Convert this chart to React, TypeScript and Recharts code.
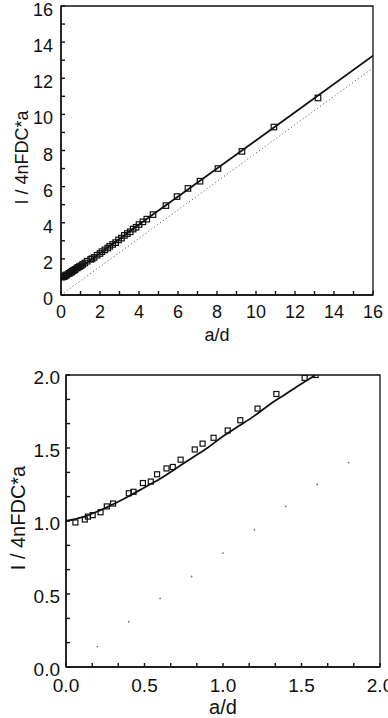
import React from "react";
import { ComposedChart, Line, Scatter, XAxis, YAxis, ReferenceArea, Label } from "recharts";

// measured points, small a/d (shared by both panels)
const ratioSmall = [0.06, 0.12, 0.14, 0.17, 0.22, 0.26, 0.3, 0.4, 0.43, 0.49, 0.54, 0.58, 0.64, 0.68, 0.73, 0.82, 0.87, 0.94, 1.03, 1.11, 1.22, 1.34, 1.52, 1.59];
const currentSmall = [0.99, 1.01, 1.03, 1.04, 1.06, 1.1, 1.12, 1.19, 1.2, 1.26, 1.27, 1.32, 1.36, 1.37, 1.42, 1.49, 1.53, 1.57, 1.62, 1.69, 1.77, 1.87, 1.98, 2.0];
// measured points, larger a/d (top panel only)
const ratioLarge = [1.7, 1.85, 2.0, 2.1, 2.25, 2.4, 2.5, 2.65, 2.8, 2.95, 3.1, 3.25, 3.4, 3.55, 3.7, 3.85, 4.0, 4.2, 4.4, 4.72, 5.38, 5.95, 6.51, 7.13, 8.05, 9.28, 10.92, 13.18];
const currentLarge = [2.08, 2.2, 2.3, 2.4, 2.5, 2.6, 2.7, 2.8, 2.9, 3.05, 3.15, 3.3, 3.4, 3.5, 3.65, 3.75, 3.9, 4.05, 4.2, 4.45, 4.95, 5.45, 5.9, 6.3, 7.0, 7.95, 9.3, 10.91];

// solid fitted curve
const fitTopX = [0, 0.4, 0.8, 1.2, 1.6, 4, 8, 12, 16];
const fitTopY = [1.0, 1.17, 1.43, 1.72, 2.01, 3.9, 7.0, 10.12, 13.25];
const fitBottomX = [0, 0.1, 0.2, 0.3, 0.4, 0.5, 0.6, 0.7, 0.8, 0.9, 1.0, 1.1, 1.2, 1.3, 1.4, 1.5, 1.59];
const fitBottomY = [1.0, 1.025, 1.065, 1.115, 1.17, 1.23, 1.29, 1.36, 1.43, 1.5, 1.58, 1.65, 1.72, 1.8, 1.87, 1.94, 2.0];

// dotted reference line
const dottedTopX = [0, 16];
const dottedTopY = [0, 12.57];
const dottedBottomX = [0.2, 0.4, 0.6, 0.8, 1.0, 1.2, 1.4, 1.6, 1.8];
const dottedBottomY = [0.14, 0.31, 0.47, 0.62, 0.78, 0.94, 1.1, 1.25, 1.4];

const topTicks = [0, 1, 2, 3, 4, 5, 6, 7, 8, 9, 10, 11, 12, 13, 14, 15, 16];
const topLabels = [0, 2, 4, 6, 8, 10, 12, 14, 16];
const bottomTicks = [0, 0.167, 0.333, 0.5, 0.667, 0.833, 1.0, 1.167, 1.333, 1.5, 1.667, 1.833, 2.0];
const bottomLabels = [0, 0.5, 1.0, 1.5, 2.0];

const zip = (xs: number[], ys: number[]) => xs.map((x, i) => ({ x, y: ys[i] }));

const FONT = "'Liberation Sans', Arial, Helvetica, sans-serif";
const yTitle = "I / 4nFDC*a";

const makeSquare = (s: number) => (props: any) => {
  const { cx, cy } = props;
  if (cx == null || cy == null) return <g />;
  return <rect x={cx - s / 2} y={cy - s / 2} width={s} height={s} fill="none" stroke="#111" strokeWidth={1.2} />;
};

const Dot = (props: any) => {
  const { cx, cy } = props;
  if (cx == null || cy == null) return <g />;
  return <circle cx={cx} cy={cy} r={0.9} fill="#777" />;
};

const makeTick = (labels: number[], digits: number, axis: "x" | "y", size: number, dy: number) => (props: any) => {
  const { x, y, payload } = props;
  const v = payload.value;
  if (!labels.some((l) => Math.abs(l - v) < 1e-6)) return <g />;
  return (
    <text x={x} y={y} dy={dy} textAnchor={axis === "x" ? "middle" : "end"} fontSize={size} fontFamily={FONT} fill="#111">
      {v.toFixed(digits)}
    </text>
  );
};

function Panel({
  width, height, margin, yWidth, xHeight, max, ticks, labels, digits, fontSize, titleSize, squareSize,
  points, fit, dotted, dottedAsDots, xTitleY, yTitleX, yTitleShift, yTickGap, xTickDy, yTickDy,
}: any) {
  return (
    <ComposedChart width={width} height={height} margin={margin}>
      <XAxis
        type="number"
        dataKey="x"
        domain={[0, max]}
        ticks={ticks}
        allowDataOverflow
        height={xHeight}
        stroke="#111"
        strokeWidth={1.4}
        tickSize={-4}
        tickMargin={4}
        tick={makeTick(labels, digits, "x", fontSize, xTickDy)}
        interval={0}
        label={
          <Label
            content={(p: any) => {
              const vb = p.viewBox;
              return (
                <text x={vb.x + vb.width / 2} y={xTitleY} textAnchor="middle" fontSize={titleSize} fontFamily={FONT} fill="#111">
                  a/d
                </text>
              );
            }}
          />
        }
      />
      <YAxis
        type="number"
        dataKey="y"
        domain={[0, max]}
        ticks={ticks}
        allowDataOverflow
        width={yWidth}
        stroke="#111"
        strokeWidth={1.4}
        tickSize={-4}
        tickMargin={4 + yTickGap}
        tick={makeTick(labels, digits, "y", fontSize, yTickDy)}
        interval={0}
        label={
          <Label
            content={(p: any) => {
              const vb = p.viewBox;
              const cy = vb.y + vb.height / 2 + yTitleShift;
              return (
                <text
                  x={yTitleX}
                  y={cy}
                  transform={`rotate(-90 ${yTitleX} ${cy})`}
                  textAnchor="middle"
                  dominantBaseline="central"
                  fontSize={titleSize}
                  fontFamily={FONT}
                  fill="#111"
                >
                  {yTitle}
                </text>
              );
            }}
          />
        }
      />
      <ReferenceArea x1={0} x2={max} y1={0} y2={max} fill="none" stroke="#111" strokeWidth={1.3} ifOverflow="visible" />
      {dottedAsDots ? (
        <Scatter data={dotted} dataKey="y" shape={Dot} isAnimationActive={false} />
      ) : (
        <Line data={dotted} dataKey="y" stroke="#666" strokeWidth={1} strokeDasharray="1.2 2.4" dot={false} isAnimationActive={false} />
      )}
      <Line data={fit} dataKey="y" type="monotone" stroke="#111" strokeWidth={1.8} dot={false} isAnimationActive={false} />
      <Scatter data={points} dataKey="y" shape={makeSquare(squareSize)} isAnimationActive={false} />
    </ComposedChart>
  );
}

export default function App() {
  const topPoints = zip(ratioSmall, currentSmall).concat(zip(ratioLarge, currentLarge));
  return (
    <div style={{ position: "absolute", left: 0, top: 0, width: 388, height: 718, background: "#fff", overflow: "hidden" }}>
      <div style={{ position: "absolute", left: 0, top: 0 }}>
        <Panel
          width={388}
          height={345}
          margin={{ top: 6, right: 15, left: 5, bottom: 0 }}
          yWidth={56}
          xHeight={50}
          max={16}
          ticks={topTicks}
          labels={topLabels}
          digits={0}
          fontSize={18}
          titleSize={18}
          squareSize={5.5}
          points={topPoints}
          fit={zip(fitTopX, fitTopY)}
          dotted={zip(dottedTopX, dottedTopY)}
          dottedAsDots={false}
          xTitleY={341}
          yTitleX={22}
          yTitleShift={7}
          yTickGap={8}
          xTickDy={23}
          yTickDy={10}
        />
      </div>
      <div style={{ position: "absolute", left: 0, top: 360 }}>
        <Panel
          width={388}
          height={358}
          margin={{ top: 15, right: 8, left: 5, bottom: 0 }}
          yWidth={61}
          xHeight={51}
          max={2}
          ticks={bottomTicks}
          labels={bottomLabels}
          digits={1}
          fontSize={19}
          titleSize={20}
          squareSize={5}
          points={zip(ratioSmall, currentSmall)}
          fit={zip(fitBottomX, fitBottomY)}
          dotted={zip(dottedBottomX, dottedBottomY)}
          dottedAsDots={true}
          xTitleY={354}
          yTitleX={18}
          yTitleShift={-3}
          yTickGap={6}
          xTickDy={25}
          yTickDy={9}
        />
      </div>
    </div>
  );
}
